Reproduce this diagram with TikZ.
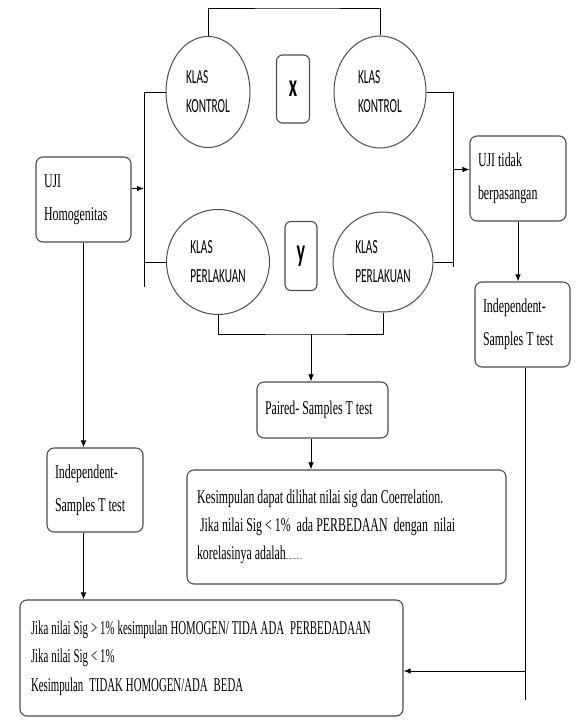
\documentclass[tikz,border=0pt]{standalone}
\usepackage{fontspec}
\setmainfont{Liberation Serif}[FakeStretch=0.61]
\newfontfamily\sempitfont{Liberation Serif}[FakeStretch=0.555]
\newfontfamily\klasfont{Carlito}[FakeStretch=0.565]
\usepackage{tikz}
\usetikzlibrary{shapes.geometric,arrows.meta}

\begin{document}
\begin{tikzpicture}[x=1pt, y=-1pt,
    kbox/.style={draw=black!70, line width=1.1pt, rounded corners=7pt, align=left,
        inner xsep=8pt, font=\fontsize{19.5}{33}\selectfont,
        execute at begin node={\spaceskip=3pt plus 1pt minus 1pt\relax}},
    tbox/.style={kbox, font=\fontsize{19.5}{28}\selectfont},
    klas/.style={draw=black!70, line width=1pt, ellipse, inner sep=0pt, align=left,
        font=\klasfont\fontsize{20}{29}\selectfont},
    vbox/.style={draw=black!70, line width=1.1pt, rounded corners=6pt,
        font=\klasfont\bfseries\fontsize{32}{32}\selectfont},
    arr/.style={-{Latex[length=7pt,width=5.5pt]}},
    line width=0.9pt]
    \useasboundingbox (0,0) rectangle (579,722);

    % Kelas kontrol dan perlakuan
    \node[klas, minimum width=84pt, minimum height=111pt] (kkA) at (208,92) {KLAS\\KONTROL};
    \node[klas, minimum width=92pt, minimum height=112pt] (kkB) at (380,92) {KLAS\\KONTROL};
    \node[klas, minimum width=103pt, minimum height=105pt] (kpA) at (218,262) {KLAS\\PERLAKUAN};
    \node[klas, minimum width=100pt, minimum height=100pt] (kpB) at (383,262) {KLAS\\PERLAKUAN};
    \node[vbox, minimum width=33pt, minimum height=68pt] (xbox) at (293,89) {x};
    \node[vbox, minimum width=32pt, minimum height=69pt] (ybox) at (301,256) {y};

    % Kotak uji
    \node[kbox, text width=79pt, minimum height=85pt] (homog) at (83.5,199.5) {UJI\\Homogenitas};
    \node[kbox, text width=80pt, minimum height=85pt] (tidak) at (518,178.5) {UJI tidak\\berpasangan};
    \node[kbox, text width=79pt, minimum height=85pt] (indR) at (522.5,324.5) {Independent-\\Samples T test};
    \node[kbox, text width=80pt, minimum height=84pt] (indL) at (95,490) {Independent-\\Samples T test};
    \node[kbox, text width=115pt, minimum height=56pt] (paired) at (322.5,410) {Paired-~Samples T test};

    % Kotak kesimpulan
    \node[tbox, inner xsep=10pt, text width=299pt, minimum height=114pt] (kesim) at (346.5,527) {Kesimpulan dapat dilihat nilai sig dan Coerrelation.\\
        \hspace{3pt}Jika nilai Sig < 1\%~ ada PERBEDAAN~ dengan~ nilai\\
        korelasinya adalah{\fontsize{9}{9}\selectfont............}};
    \node[tbox, font=\sempitfont\fontsize{19.5}{28.5}\selectfont, inner xsep=11pt, text width=361pt,
        minimum height=116pt] (hasil) at (211.5,658) {Jika nilai Sig > 1\% kesimpulan HOMOGEN/ TIDA ADA~ PERBEDADAAN\\
        Jika nilai Sig < 1\%\\
        Kesimpulan~ TIDAK HOMOGEN/ADA~ BEDA};

    % Garis penghubung
    \coordinate (topbar) at (300,8);
    \coordinate (lbEnd) at (144,287);
    \coordinate (rbEnd) at (453,267);
    \coordinate (bb) at (311,334);
    \coordinate (rEnd) at (525,700);
    \coordinate (hin) at ([yshift=-13pt]hasil.east);
    \coordinate (tin) at ([yshift=9pt]tidak.west);
    \coordinate (hout) at ([yshift=11pt]homog.east);

    \draw (kkA.north) |- (topbar) -| (kkB.north);
    \draw (kkA.west) -| (lbEnd);
    \draw (kpA.west) -- (kpA.west -| lbEnd);
    \draw[arr] (hout) -- (hout -| lbEnd);
    \draw (kkB.east) -| (rbEnd);
    \draw (kpB.east) -- (kpB.east -| rbEnd);
    \draw[arr] (tin -| rbEnd) -- (tin);
    \draw[arr] (tidak.south) -- (tidak.south |- indR.north);
    \draw (kpA.south) |- (bb) -| (kpB.south);
    \draw[arr] (bb) -- (bb |- paired.north);
    \draw[arr] (bb |- paired.south) -- (bb |- kesim.north);
    \draw[arr] (homog.south) -- (homog.south |- indL.north);
    \draw[arr] (indL.south -| homog.south) -- (homog.south |- hasil.north);
    \draw (indR.south -| rEnd) -- (rEnd);
    \draw[arr] (hin -| rEnd) -- (hin);
\end{tikzpicture}
\end{document}
